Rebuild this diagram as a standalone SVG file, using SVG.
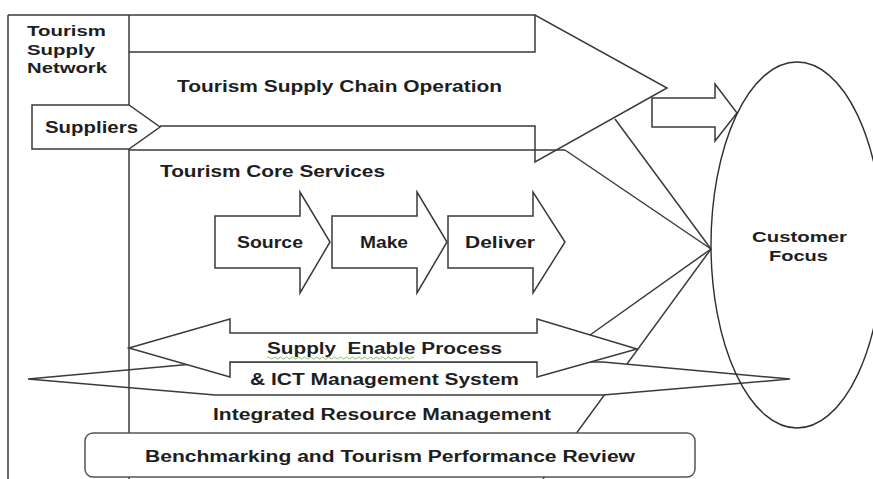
<svg xmlns="http://www.w3.org/2000/svg" width="873" height="479" viewBox="0 0 873 479">
<style>
.ln{fill:none;stroke:#3a3a3a;stroke-width:1.5;stroke-linejoin:miter}
.wf{fill:#fff;stroke:#3a3a3a;stroke-width:1.5;stroke-linejoin:miter}
.t{font-family:"Liberation Sans",Arial,sans-serif;font-weight:bold;fill:#1e1e1e;font-size:16px}
.s15{font-size:15px}
.s17{font-size:17px}
</style>
<rect width="873" height="479" fill="#fff"/>

<g id="connectors">
<line class="ln" x1="615" y1="119" x2="711" y2="249"/>
<line class="ln" x1="565" y1="150" x2="711" y2="249"/>
<line class="ln" x1="590" y1="335" x2="711" y2="249"/>
<line class="ln" x1="711" y1="249" x2="543" y2="479"/>
</g>

<g id="node-ict">
<polygon class="wf" points="28,379 215,362 603,362 790,379 603,395 215,395"/>
<text class="t" x="250" y="385" textLength="269" lengthAdjust="spacingAndGlyphs">&amp; ICT Management System</text>
</g>

<g id="frame">
<line class="ln" x1="8" y1="15" x2="535" y2="15"/>
<line class="ln" x1="8" y1="15" x2="8" y2="479"/>
<line class="ln" x1="129" y1="15" x2="129" y2="479"/>
<line class="ln" x1="129" y1="150" x2="565" y2="150"/>
<text class="t s15" x="27" y="36" textLength="79" lengthAdjust="spacingAndGlyphs">Tourism</text>
<text class="t s15" x="27" y="55" textLength="68" lengthAdjust="spacingAndGlyphs">Supply</text>
<text class="t s15" x="27" y="73" textLength="80" lengthAdjust="spacingAndGlyphs">Network</text>
</g>

<g id="node-operation">
<polyline class="ln" points="129,52 535,52 535,15 667,88 535,162 535,126 160,126"/>
<text class="t" x="177" y="92" textLength="325" lengthAdjust="spacingAndGlyphs">Tourism Supply Chain Operation</text>
</g>

<g id="node-suppliers">
<polygon class="wf" points="32,105 129,105 160,127 129,149 32,149"/>
<text class="t" x="45" y="133" textLength="93" lengthAdjust="spacingAndGlyphs">Suppliers</text>
</g>

<g id="node-output-arrow">
<polygon class="wf" points="652,98 715,98 715,84 737,113 715,141 715,127 652,127"/>
</g>

<g id="node-core-services">
<text class="t" x="160" y="177" textLength="225" lengthAdjust="spacingAndGlyphs">Tourism Core Services</text>
</g>

<g id="node-source">
<polygon class="wf" points="215,216 300,216 300,192 330,242 300,293 300,268 215,268"/>
<text class="t s17" x="237" y="248" textLength="66" lengthAdjust="spacingAndGlyphs">Source</text>
</g>
<g id="node-make">
<polygon class="wf" points="332,216 417,216 417,192 447,242 417,293 417,268 332,268"/>
<text class="t s17" x="360" y="248" textLength="48" lengthAdjust="spacingAndGlyphs">Make</text>
</g>
<g id="node-deliver">
<polygon class="wf" points="448,216 533,216 533,192 565,242 533,293 533,268 448,268"/>
<text class="t s17" x="465" y="248" textLength="70" lengthAdjust="spacingAndGlyphs">Deliver</text>
</g>

<g id="node-supply-enable">
<polygon class="wf" points="129,348 230,319 230,333 537,333 537,319 637,349 537,377 537,362 230,362 230,377"/>
<text class="t" x="267" y="354" textLength="235" lengthAdjust="spacingAndGlyphs">Supply&#160; Enable Process</text>
<path d="M267,358 q1.5,-2 3,0 t3,0 t3,0 t3,0 t3,0 t3,0 t3,0 t3,0 t3,0 t3,0 t3,0 t3,0 t3,0 t3,0 t3,0 t3,0 t3,0 t3,0 t3,0 t3,0 t3,0 t3,0 t3,0 t3,0 t3,0 t3,0 t3,0 t3,0 t3,0 t3,0 t3,0 t3,0 t3,0 t3,0 t3,0 t3,0 t3,0 t3,0 t3,0 t3,0 t3,0 t3,0 t3,0 t3,0 t3,0 t3,0 t3,0 t3,0 t3,0" fill="none" stroke="#6aa84f" stroke-width="0.8"/>
</g>

<g id="node-irm">
<text class="t" x="213" y="420" textLength="338" lengthAdjust="spacingAndGlyphs">Integrated Resource Management</text>
</g>

<g id="node-benchmark">
<rect class="wf" x="85" y="433" width="610" height="44" rx="8" ry="8" style="stroke:#555"/>
<text class="t" x="145" y="462" textLength="490" lengthAdjust="spacingAndGlyphs">Benchmarking and Tourism Performance Review</text>
</g>

<g id="node-customer">
<ellipse cx="797" cy="245" rx="86" ry="183" fill="none" stroke="#2e2e2e" stroke-width="1.4"/>
<text class="t s15" x="752" y="242" textLength="95" lengthAdjust="spacingAndGlyphs">Customer</text>
<text class="t s15" x="769" y="261" textLength="59" lengthAdjust="spacingAndGlyphs">Focus</text>
</g>
</svg>
